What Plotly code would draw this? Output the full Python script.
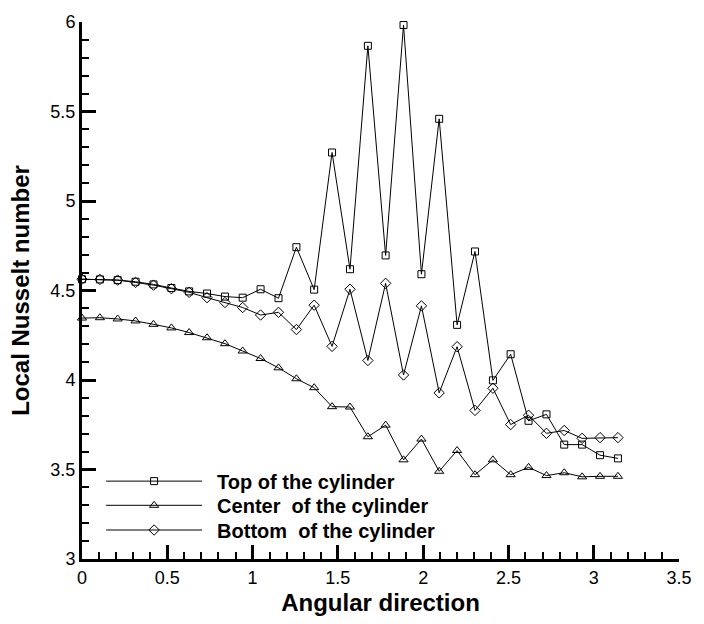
import plotly.graph_objects as go

angle = [0.000, 0.105, 0.209, 0.314, 0.419, 0.524, 0.628, 0.733, 0.838, 0.942,
         1.047, 1.152, 1.257, 1.361, 1.466, 1.571, 1.676, 1.780, 1.885, 1.990,
         2.094, 2.199, 2.304, 2.409, 2.513, 2.618, 2.723, 2.827, 2.932, 3.037, 3.142]

top_nu = [4.563, 4.562, 4.558, 4.549, 4.534, 4.514, 4.495, 4.483, 4.466, 4.460,
          4.507, 4.457, 4.742, 4.505, 5.271, 4.619, 5.867, 4.696, 5.983, 4.591,
          5.459, 4.308, 4.718, 3.998, 4.144, 3.772, 3.808, 3.639, 3.639, 3.580, 3.562]

center_nu = [4.346, 4.348, 4.341, 4.330, 4.311, 4.291, 4.265, 4.236, 4.203, 4.162,
             4.120, 4.068, 4.007, 3.957, 3.851, 3.849, 3.683, 3.748, 3.554, 3.670,
             3.490, 3.606, 3.471, 3.554, 3.471, 3.512, 3.466, 3.482, 3.459, 3.462, 3.462]

bottom_nu = [4.563, 4.562, 4.558, 4.545, 4.530, 4.510, 4.490, 4.460, 4.433, 4.405,
             4.363, 4.378, 4.282, 4.418, 4.188, 4.507, 4.109, 4.540, 4.028, 4.414,
             3.928, 4.186, 3.830, 3.954, 3.751, 3.803, 3.702, 3.718, 3.674, 3.678, 3.678]

names = ["Top of the cylinder", "Center  of the cylinder", "Bottom  of the cylinder"]
symbols = ["square-open", "triangle-up-open", "diamond-open"]
sizes = [7, 8, 8]
series = [top_nu, center_nu, bottom_nu]
legend_ids = ["legend", "legend2", "legend3"]
legend_y = [0.145, 0.100, 0.054]

FONT = "Liberation Sans, Arial, sans-serif"

fig = go.Figure()
for name, ys, sym, sz, lg in zip(names, series, symbols, sizes, legend_ids):
    fig.add_trace(go.Scatter(
        x=angle, y=ys, name="\u2002" + name, mode="lines+markers",
        line=dict(color="black", width=1),
        marker=dict(symbol=sym, size=sz, color="black", line=dict(width=1, color="black")),
        cliponaxis=False, legend=lg,
    ))

axis_common = dict(
    showline=True, linecolor="black", linewidth=3, mirror=False,
    ticks="inside", ticklen=14, tickwidth=3, tickcolor="black",
    showgrid=False, zeroline=False,
    tickfont=dict(family=FONT, size=18, color="black"),
    title_font=dict(family=FONT, size=24, color="black"),
)

fig.update_xaxes(
    range=[0, 3.5], dtick=0.5, tick0=0,
    minor=dict(dtick=0.1, ticks="inside", ticklen=7, tickwidth=1.5, tickcolor="black"),
    title_text="<b>Angular direction</b>", title_standoff=8,
    **axis_common,
)
fig.update_yaxes(
    range=[3, 6], dtick=0.5, tick0=3,
    minor=dict(dtick=0.1, ticks="inside", ticklen=7, tickwidth=1.5, tickcolor="black"),
    title_text="<b>Local Nusselt number</b>", title_standoff=14,
    **axis_common,
)

leg_common = dict(
    x=0.032, xanchor="left", yanchor="middle",
    bgcolor="rgba(0,0,0,0)", borderwidth=0, itemwidth=96,
    font=dict(family=FONT, size=20, color="black", weight="bold"),
)
layout_legends = {}
for lg, ly in zip(legend_ids, legend_y):
    layout_legends[lg] = dict(y=ly, **leg_common)

fig.update_layout(
    width=704, height=624,
    margin=dict(l=82, r=22, t=19, b=62),
    paper_bgcolor="white", plot_bgcolor="white",
    showlegend=True,
    **layout_legends,
)

fig.write_html("out.html")
